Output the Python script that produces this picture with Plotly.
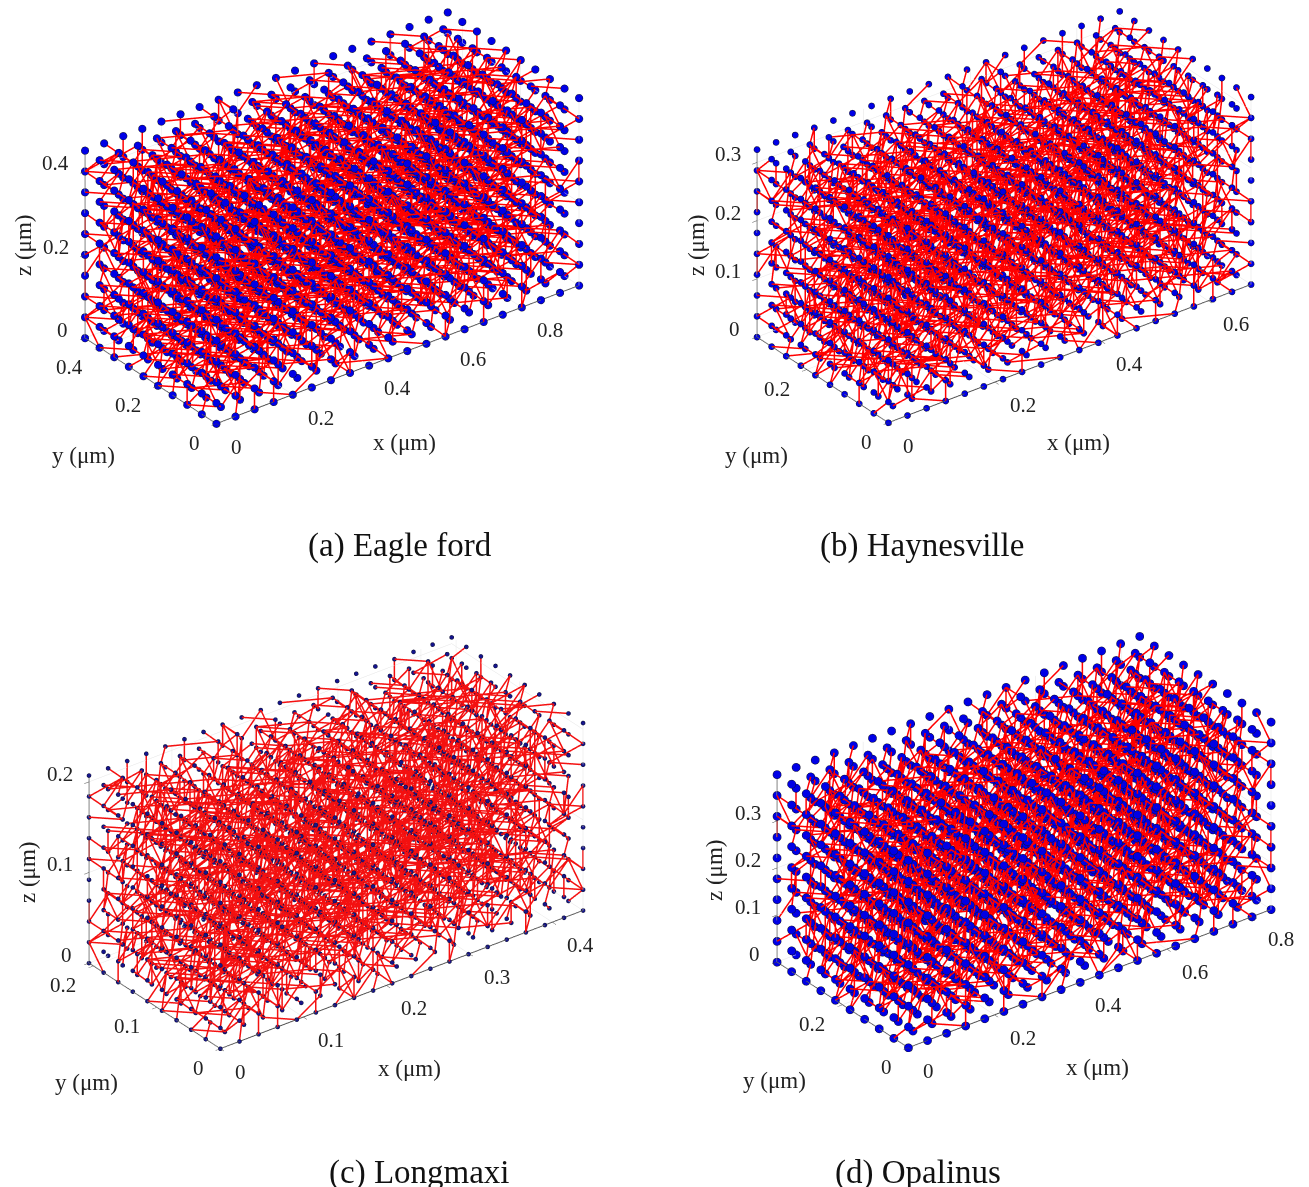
import plotly.graph_objects as go

A_X = [0,.05,.10,.15,.20,.25,.30,.35,.40,.45,.50,.55,.60,.65,.70,.75,.80,.85,.90,.95]
B_X = [0,.0358,.0716,.1074,.1432,.179,.2148,.2506,.2864,.3222,.358,.3938,.4296,.4654,.5012,.537,.5728,.6086,.6444,.6802]
C_X = [0,.023,.046,.069,.092,.115,.138,.161,.184,.207,.23,.253,.276,.299,.322,.345,.368,.391,.414,.437]
D_X = [0,.0443,.0886,.1329,.1772,.2215,.2658,.3101,.3544,.3987,.443,.4873,.5316,.5759,.6202,.6645,.7088,.7531,.7974,.8417]

A_XT, A_YT, A_ZT = [0,.2,.4,.6,.8], [0,.2,.4], [0,.2,.4]
B_XT, B_YT, B_ZT = [0,.2,.4,.6], [0,.2], [0,.1,.2,.3]
C_XT, C_YT, C_ZT = [0,.1,.2,.3,.4], [0,.1,.2], [0,.1,.2]
D_XT, D_YT, D_ZT = [0,.2,.4,.6,.8], [0,.2], [0,.1,.2,.3]
CAPTIONS = ["(a) Eagle ford", "(b) Haynesville", "(c) Longmaxi", "(d) Opalinus"]

# Throat connectivity: the individual throats cannot be traced in the picture, so this is a
# hand-written estimate of the look of the network, not a reading of each edge.
# One row per x slice; token = y index, z index, throat direction code.
OFFSETS = dict(a=(1,0,0), b=(0,1,0), c=(0,0,1), d=(1,-1,0), e=(1,1,0), f=(1,0,1), g=(1,0,-1),
               h=(0,1,1), i=(0,1,-1), j=(1,-1,1), k=(1,-1,-1), l=(1,1,1), m=(2,-1,0), n=(0,0,2))
EDGE_ROWS = [
 "09d 19f 28c 37d 46h 55k 64j 73b 82g 91d 08i 17m 26e 35c 44f 53d 62n 71j 80h 95k 07b 16d 25g 34l 43c 52m 61f 70i 89d 98j 06c 15h 24d 33k 42b 51e 60g 79m 88f 97d 05j 14c 23i 32d 41h 50f 69k 78b 87d 96g 04m 13j 22c 31d 40l 59h 68f 77k 86d 95c",
 "18d 27j 36c 45g 54d 63h 72m 81f 90b 99k 07c 16i 25d 34j 43f 52h 61d 70c 89g 98m 06d 15k 24b 33f 42j 51d 60n 79c 88i 97h 05g 14d 23m 32k 41c 50j 69d 78f 87e 96b 04h 13g 22d 31j 40c 59m 68k 77d 86i 95f 03c 12d 21l 30h 49g 58j 67d 76c 85k",
 "29f 38d 47k 56c 65j 74d 83g 92h 01b 19i 08m 17d 26c 35g 44h 53j 62d 71k 80f 98c 07l 16h 25d 34b 43m 52g 61j 70d 89c 97f 06k 15d 24h 33c 42g 51i 60d 79j 88b 96m 05f 14k 23d 32c 41j 50h 69g 78d 87n 95i 04d 13f 22k 31c 40d 59j 68h 77g 86m",
 "17g 26d 35j 44c 53k 62h 71d 80m 99f 08b 16c 25i 34d 43g 52j 61f 70d 89k 98c 07h 15d 24m 33g 42c 51d 60k 79h 88j 97b 06f 14d 23c 32i 41k 50d 69f 78m 87c 96h 05j 13g 22d 31f 40b 59c 68d 77k 86l 95j 04i 12h 21d 30c 49m 58g 67f 76d 85j",
 "39d 48c 57h 66k 75d 84j 93f 02g 11m 29b 08d 17c 26j 35k 44d 53i 62g 71h 80c 99m 07f 16d 25b 34c 43h 52d 61k 70j 89g 98i 06d 15f 24c 33m 42d 51j 60h 79k 88c 97d 05g 14b 23j 32f 41d 50i 69c 78h 87k 96d 04m 13c 22g 31j 40d 59f 68b 77e 86h",
 "16f 25d 34g 43k 52c 61j 70d 89h 98m 07c 15d 24i 33j 42f 51g 60c 79d 88k 97h 06b 14m 23d 32c 41f 50k 69j 78d 87g 96c 05h 13d 22b 31i 40j 59k 68c 77f 86d 95m 04g 12j 21d 30h 49c 58f 67k 76d 85i 94b 03d 19c 28j 37g 46d 55h 64m 73k 82c 91f",
 "09c 18k 27d 36f 45j 54g 63d 72c 81h 90i 08d 17b 26m 35h 44k 53c 62f 71d 80j 99g 07d 16c 25j 34i 43d 52f 61h 70m 89k 98b 06g 15c 24d 33j 42k 51h 60d 79f 88c 97i 05m 14d 23g 32b 41c 50f 69j 78d 87h 96k 04c 13l 22d 31g 40i 59h 68m 77c 86j",
 "28g 37c 46d 55j 64f 73k 82d 91h 00b 19m 07j 16d 25c 34h 43g 52k 61d 70f 89i 98c 06d 15m 24j 33b 42f 51c 60g 79d 88h 97k 05d 14j 23c 32h 41m 50d 69i 78g 87f 96c 04k 13d 22j 31b 40h 59d 68c 77m 86g 95f 03h 12k 21c 30d 49j 58i 67d 76f 85m",
 "17k 26c 35d 44j 53h 62f 71g 80d 99c 08m 16j 25b 34d 43c 52i 61k 70h 89d 98f 07g 15c 24j 33d 42m 51h 60f 79k 88d 97c 06i 14g 23d 32j 41b 50c 69m 78h 87d 96f 05k 13c 22j 31d 40g 59i 68f 77h 86k 95d 04c 12m 21g 30j 49d 58b 67c 76h 85f",
 "38h 47d 56g 65c 74j 83k 92d 01f 19c 29m 08k 17h 26d 35b 44j 53g 62c 71f 80d 99i 07m 16c 25h 34d 43k 52j 61g 70b 89f 98d 06c 15i 24k 33h 42d 51m 60c 79g 88j 97f 05d 14b 23k 32c 41h 50d 69j 78i 87m 96g 04f 13d 22c 31k 40j 59h 68d 77b 86c",
 "19d 27g 36j 45c 54f 63d 72k 81i 90h 09m 18c 26b 35f 44d 53j 62k 71c 80g 98h 07d 16m 25c 34g 43j 52d 61i 70k 89c 97f 06h 15d 24b 33k 42c 51f 60j 79d 88m 96g 05i 14c 23h 32d 41k 50g 69f 78j 87c 95d 04h 13m 22d 31c 40f 59k 68g 77j 86i",
 "08f 17d 26k 35c 44g 53h 62j 71d 80c 99b 07m 16i 25d 34f 43c 52k 61h 70g 89d 98j 06c 15b 24m 33d 42h 51k 60f 79c 88g 97d 05j 14i 23c 32f 41d 50m 69h 78k 87b 96c 04d 13j 22g 31h 40c 59d 68f 77m 86k 95i 03g 12c 21d 30j 49f 58h 67c 76k 85d",
 "29j 38c 47d 56h 65g 74k 83c 92d 01m 19f 08g 17c 26i 35d 44b 53f 62k 71j 80c 99d 07h 16g 25m 34c 43d 52j 61f 70h 89k 98c 06b 15d 24g 33i 42c 51j 60m 79f 88d 97h 05c 14k 23f 32d 41g 50j 69c 78b 87i 96d 04h 13c 22m 31f 40k 59d 68j 77g 86c",
 "18c 27h 36d 45k 54j 63b 72f 81d 90g 09c 16d 25j 34m 43h 52c 61g 70d 89f 98k 07i 15c 24d 33b 42j 51h 60k 79m 88d 97g 06c 14f 23j 32d 41c 50i 69k 78h 87d 96b 05f 13m 22c 31g 40d 59j 68h 77c 86f 95k 04d 12g 21i 30c 49d 58m 67j 76f 85h",
 "37d 46f 55c 64k 73g 82j 91h 00d 19b 28m 08c 17d 26g 35j 44i 53c 62d 71f 80k 99h 07b 16c 25d 34m 43j 52g 61k 70c 89d 98h 06f 15j 24c 33g 42d 51b 60i 79k 88m 97c 05h 14d 23f 32j 41g 50c 69d 78k 87h 96i 04b 13f 22c 31d 40m 59g 68j 77d 86k",
 "09h 18d 27c 36m 45f 54j 63g 72k 81c 90d 07i 16b 25h 34d 43f 52c 61j 70k 89g 98d 06m 15c 24h 33d 42b 51g 60j 79f 88c 97k 05d 14i 23m 32h 41c 50f 69d 78j 87g 96b 04c 13k 22d 31h 40f 59m 68c 77i 86d 95j 03g 12f 21c 30k 49h 58d 67b 76j 85c",
 "28d 37k 46c 55g 64h 73d 82f 91j 00c 19i 08b 17m 26d 35f 44c 53k 62h 71g 80j 99d 07c 16f 25k 34j 43d 52b 61c 70m 89h 98g 06d 15c 24i 33f 42k 51d 60h 79j 88c 97m 05g 14d 23b 32c 41j 50k 69f 78d 87i 96h 04c 13g 22f 31m 40d 59c 68k 77j 86b",
 "19k 27c 36f 45d 54m 63j 72g 81c 90h 09d 18i 26k 35c 44d 53g 62b 71h 80f 98j 07c 16d 25i 34k 43h 52f 61c 70d 89j 97g 06m 15b 24c 33d 42f 51k 60i 79h 88c 96d 05j 14g 23c 32m 41d 50h 69k 78f 87c 95b 04j 13d 22i 31g 40c 59f 68d 77h 86m",
 "08h 17j 26c 35d 44k 53f 62g 71c 80d 99j 07d 16h 25c 34b 43g 52d 61f 70k 89c 98i 06j 15d 24c 33h 42f 51g 60d 79c 88k 97b 05d 14c 23j 32f 41h 50d 69g 78c 87j 96f 04k 13b 22d 31c 40g 59h 68d 77f 86c 95j 03d 12k 21h 30c 49f 58d 67g 76b 85c",
]

# Which copies of the table each panel uses: (flip y index, flip z index, reverse x slices)
A_COPIES = [(0,0,0), (0,1,0), (1,0,1), (1,1,0)]
B_COPIES = [(1,0,0), (0,0,1), (1,1,1), (0,1,0)]
C_COPIES = [(0,1,1), (1,1,0), (1,0,1), (0,0,0)]
D_COPIES = [(0,0,1), (1,0,0), (1,1,1), (0,1,1)]

def edges(xs, copies):
    ex, ey, ez = [], [], []
    for fy, fz, rev in copies:
        for i, row in enumerate(EDGE_ROWS):
            for tok in row.split():
                j, k = int(tok[0]), int(tok[1])
                dx, dy, dz = OFFSETS[tok[2]]
                q = (i+dx, j+dy, k+dz)
                if not (0 <= q[0] <= 19 and 0 <= q[1] <= 9 and 0 <= q[2] <= 9):
                    continue
                for a, b, c in ((i, j, k), q):
                    a = 19-a if rev else a
                    b = 9-b if fy else b
                    c = 9-c if fz else c
                    ex.append(xs[a]); ey.append(xs[b]); ez.append(xs[c])
                ex.append(None); ey.append(None); ez.append(None)
    return ex, ey, ez

W, H = 1309, 1187
SERIF = "Liberation Serif"
EYE = (-.526, -.688, .498)

PANELS = [
 dict(xs=A_X, xt=A_XT, yt=A_YT, zt=A_ZT, copies=A_COPIES, cx=332, cy=218, ms=4.4, col="#0000e6", lw=3, lc="#ff0000"),
 dict(xs=B_X, xt=B_XT, yt=B_YT, zt=B_ZT, copies=B_COPIES, cx=1004, cy=217, ms=3.6, col="#0000e6", lw=3, lc="#ff0000"),
 dict(xs=C_X, xt=C_XT, yt=C_YT, zt=C_ZT, copies=C_COPIES, cx=336, cy=843, ms=2.4, col="#14148c", lw=3, lc="#f41010"),
 dict(xs=D_X, xt=D_XT, yt=D_YT, zt=D_ZT, copies=D_COPIES, cx=1024, cy=842, ms=4.8, col="#0000e6", lw=3, lc="#ff0000"),
]
TITLES = [
 [("x (μm)",405,442,0),("y (μm)",83,455,0),("z (μm)",24,245,-90)],
 [("x (μm)",1078,442,0),("y (μm)",756,455,0),("z (μm)",697,245,-90)],
 [("x (μm)",409,1068,0),("y (μm)",86,1082,0),("z (μm)",27,872,-90)],
 [("x (μm)",1097,1067,0),("y (μm)",775,1080,0),("z (μm)",714,870,-90)],
]
CAPTION_POS = [(400,546),(922,546),(419,1172),(918,1172)]
SW, SH = 560, 420
R = 1.84

fig = go.Figure()
ann = []
layout = {}
for n, p in enumerate(PANELS):
    sid = "scene" if n == 0 else f"scene{n+1}"
    xs, ys = p["xs"], p["xs"][:10]
    nx, ny, nz = [], [], []
    for a in xs:
        for b in ys:
            for c in ys:
                nx.append(a); ny.append(b); nz.append(c)
    ex, ey, ez = edges(xs, p["copies"])
    fig.add_trace(go.Scatter3d(x=ex, y=ey, z=ez, mode="lines", scene=sid, showlegend=False,
                               line=dict(color=p["lc"], width=p["lw"]), hoverinfo="skip"))
    fig.add_trace(go.Scatter3d(x=nx, y=ny, z=nz, mode="markers", scene=sid, showlegend=False,
                               marker=dict(size=p["ms"], color=p["col"], opacity=1,
                                           line=dict(color="#101030", width=1)), hoverinfo="skip"))
    ax = dict(showbackground=False, showgrid=True, gridcolor="#e4e4e4", gridwidth=1, zeroline=False,
              showline=True, linecolor="#444444", linewidth=2, ticks="outside", ticklen=6, tickcolor="#444444",
              showticklabels=False, title=dict(text=""), showspikes=False, autorange=False)
    xm, ym = xs[-1], ys[-1]
    sa = []
    fnt = dict(family=SERIF, size=21, color="#222222")
    for v in p["xt"]:
        sa.append(dict(x=v, y=0, z=0, text=f"{v:g}", showarrow=False, font=fnt, xshift=28 if v else 20, yshift=-23))
    for v in p["yt"]:
        sa.append(dict(x=0, y=v, z=0, text=f"{v:g}", showarrow=False, font=fnt, xshift=-30 if v else -22, yshift=-19))
    for v in p["zt"]:
        # anchored a hair inside the y range: plotly hides an annotation whose fraction rounds above 1
        sa.append(dict(x=0, y=ym*0.9999, z=v, text=f"{v:g}", showarrow=False, font=fnt, xshift=-29 if v else -22, yshift=8))
    layout[sid] = dict(
        domain=dict(x=[(p["cx"]-SW/2)/W, (p["cx"]+SW/2)/W],
                    y=[1-(p["cy"]+SH/2)/H, 1-(p["cy"]-SH/2)/H]),
        aspectmode="manual", aspectratio=dict(x=2.174, y=1.03, z=1.03),
        camera=dict(projection=dict(type="orthographic"),
                    eye=dict(x=EYE[0]*R, y=EYE[1]*R, z=EYE[2]*R),
                    center=dict(x=0,y=0,z=0), up=dict(x=0,y=0,z=1)),
        xaxis=dict(ax, range=[0,xm], tickvals=p["xt"]),
        yaxis=dict(ax, range=[0,ym], tickvals=p["yt"]),
        zaxis=dict(ax, range=[0,ym], tickvals=p["zt"]),
        annotations=sa)
    for t, tx, ty, ang in TITLES[n]:
        ann.append(dict(text=t, x=tx/W, y=1-ty/H, xref="paper", yref="paper", showarrow=False,
                        xanchor="center", yanchor="middle",
                        textangle=ang, font=dict(family=SERIF, size=23, color="#222222")))
    ann.append(dict(text=CAPTIONS[n], x=CAPTION_POS[n][0]/W, y=1-CAPTION_POS[n][1]/H, xref="paper", yref="paper",
                    xanchor="center", yanchor="middle",
                    showarrow=False, font=dict(family=SERIF, size=33, color="#111111")))

fig.update_layout(width=W, height=H, margin=dict(l=0,r=0,t=0,b=0), paper_bgcolor="white",
                  annotations=ann, showlegend=False, **layout)
fig.write_html("out.html", post_script="document.body.style.margin='0';", config=dict(displayModeBar=False))
